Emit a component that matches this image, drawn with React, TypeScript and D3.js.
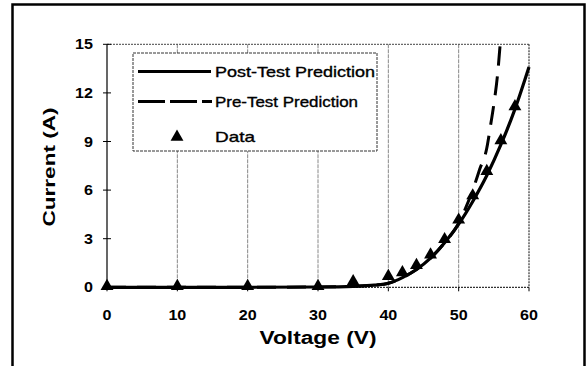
import React from "react";
import * as d3 from "d3";

const xTicks = [0, 10, 20, 30, 40, 50, 60];
const yTicks = [0, 3, 6, 9, 12, 15];

const dataV = [0, 10, 20, 30, 35, 40, 42, 44, 46, 48, 50, 52, 54, 56, 58];
const dataI = [0, 0, 0, 0, 0.3, 0.62, 0.85, 1.3, 1.95, 2.9, 4.1, 5.6, 7.1, 9.0, 11.1];

const postV = [0, 10, 20, 30, 35, 38, 40, 42, 44, 46, 48, 50, 52, 54, 56, 58, 60];
const postI = [0, 0, 0, 0.02, 0.06, 0.13, 0.25, 0.6, 1.1, 1.8, 2.75, 3.9, 5.3, 6.9, 8.8, 11.0, 13.6];

const preV = [0, 10, 20, 30, 35, 38, 40, 42, 44, 46, 48, 50, 51, 52, 53, 54, 54.5, 55, 55.5, 55.9];
const preI = [0, 0, 0, 0.02, 0.06, 0.13, 0.25, 0.6, 1.1, 1.8, 2.75, 3.95, 4.9, 6.0, 7.3, 8.6, 9.9, 11.3, 13.0, 15.0];

const legendLabels = ["Post-Test Prediction", "Pre-Test Prediction", "Data"];

const FONT = "'Liberation Sans', Arial, Helvetica, sans-serif";

export default function App() {
  const x = d3.scaleLinear().domain([0, 60]).range([107, 529]);
  const y = d3.scaleLinear().domain([0, 15]).range([287.3, 44.3]);

  const line = d3
    .line<[number, number]>()
    .x((d) => x(d[0]))
    .y((d) => y(d[1]))
    .curve(d3.curveMonotoneX);

  const postPts: [number, number][] = postV.map((v, i) => [v, postI[i]]);
  const prePts: [number, number][] = preV.map((v, i) => [v, preI[i]]);
  const tri = d3.symbol().type(d3.symbolTriangle).size(72)() as string;

  const [x0, x1] = x.range();
  const [yb, yt] = y.range();

  return (
    <svg
      width={587}
      height={366}
      style={{ position: "absolute", left: 0, top: 0, background: "#fff" }}
    >
      <defs>
        <clipPath id="plotclip">
          <rect x={x0 - 6} y={yt} width={x1 - x0 + 12} height={yb - yt + 8} />
        </clipPath>
      </defs>
      <rect x={0} y={0} width={587} height={366} fill="#fff" />
      {/* outer frame */}
      <rect x={12.5} y={4.5} width={572} height={380} fill="none" stroke="#000" strokeWidth={2.5} />

      {/* vertical gridlines */}
      {xTicks.slice(1, -1).map((t) => (
        <line key={t} x1={x(t)} x2={x(t)} y1={yt} y2={yb} stroke="#888" strokeWidth={1} strokeDasharray="4,1" />
      ))}
      {/* plot border dotted */}
      <line x1={x0} x2={x1} y1={yt} y2={yt} stroke="#444" strokeWidth={1} strokeDasharray="2,1" />
      <line x1={x1} x2={x1} y1={yt} y2={yb} stroke="#333" strokeWidth={1.2} strokeDasharray="2,1" />
      <line x1={x0} x2={x1} y1={yb} y2={yb} stroke="#333" strokeWidth={1.2} strokeDasharray="2,1" />
      {/* y axis */}
      <line x1={x0} x2={x0} y1={yt} y2={yb} stroke="#000" strokeWidth={1.2} />
      {yTicks.map((t) => (
        <line key={t} x1={x0 - 4} x2={x0 + 4} y1={y(t)} y2={y(t)} stroke="#000" strokeWidth={1} />
      ))}
      {xTicks.map((t) => (
        <line key={t} x1={x(t)} x2={x(t)} y1={yb} y2={yb + 4} stroke="#000" strokeWidth={1} />
      ))}

      {/* tick labels */}
      {yTicks.map((t) => (
        <text
          key={t}
          transform={`translate(93,${y(t) + 5}) scale(1.15,1)`}
          textAnchor="end"
          fontFamily={FONT}
          fontWeight="bold"
          fontSize={14}
          fill="#000"
        >
          {t}
        </text>
      ))}
      {xTicks.map((t) => (
        <text
          key={t}
          transform={`translate(${x(t)},${yb + 33}) scale(1.15,1)`}
          textAnchor="middle"
          fontFamily={FONT}
          fontWeight="bold"
          fontSize={14}
          fill="#000"
        >
          {t}
        </text>
      ))}

      {/* axis titles */}
      <text
        x={(x0 + x1) / 2}
        y={343.5}
        textAnchor="middle"
        fontFamily={FONT}
        fontWeight="bold"
        fontSize={17.5}
        textLength={117}
        lengthAdjust="spacingAndGlyphs"
        fill="#000"
      >
        Voltage (V)
      </text>
      <text
        transform={`translate(55,167) rotate(-90)`}
        textAnchor="middle"
        fontFamily={FONT}
        fontWeight="bold"
        fontSize={17}
        textLength={119}
        lengthAdjust="spacingAndGlyphs"
        fill="#000"
      >
        Current (A)
      </text>

      {/* curves */}
      <g clipPath="url(#plotclip)">
        <path d={line(prePts) || ""} fill="none" stroke="#000" strokeWidth={3} strokeDasharray="19,11" />
        <path d={line(postPts) || ""} fill="none" stroke="#000" strokeWidth={3.2} />
      </g>
      {dataV.map((v, i) => (
        <path key={i} d={tri} transform={`translate(${x(v)},${y(dataI[i]) - 1})`} fill="#000" />
      ))}

      {/* legend */}
      <rect x={133} y={53} width={244} height={98} fill="#fff" stroke="#333" strokeWidth={1} strokeDasharray="3,1" />
      <line x1={138} x2={211} y1={71.5} y2={71.5} stroke="#000" strokeWidth={3} />
      <line x1={138} x2={212} y1={101.5} y2={101.5} stroke="#000" strokeWidth={3} strokeDasharray="27,5" />
      <path d={tri} transform={`translate(177,137)`} fill="#000" />
      {legendLabels.map((s, i) => (
        <text
          key={s}
          x={215}
          y={[76.5, 107, 142][i]}
          fontFamily={FONT}
          fontSize={15}
          textLength={[160, 143, 40][i]}
          lengthAdjust="spacingAndGlyphs"
          fill="#000"
          stroke="#000"
          strokeWidth={0.35}
        >
          {s}
        </text>
      ))}
    </svg>
  );
}
